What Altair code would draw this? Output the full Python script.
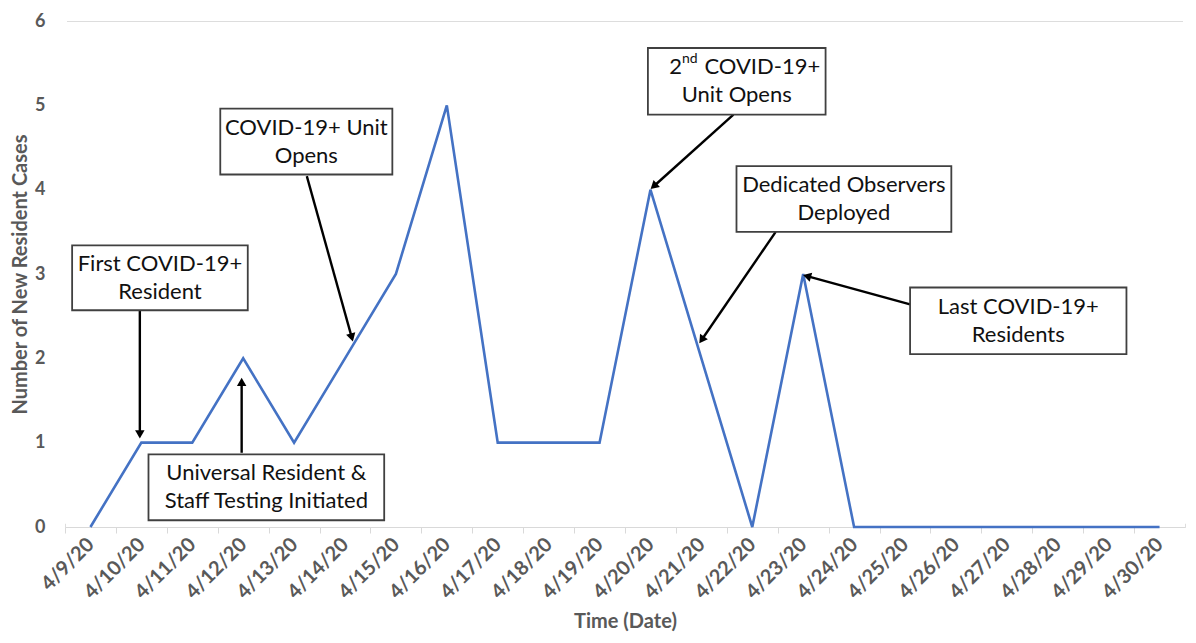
import math
import json
import altair as alt
import pandas as pd

# ---------------- data ----------------
dates = ["4/9/20", "4/10/20", "4/11/20", "4/12/20", "4/13/20", "4/14/20", "4/15/20",
         "4/16/20", "4/17/20", "4/18/20", "4/19/20", "4/20/20", "4/21/20", "4/22/20",
         "4/23/20", "4/24/20", "4/25/20", "4/26/20", "4/27/20", "4/28/20", "4/29/20",
         "4/30/20"]
cases = [0, 1, 1, 2, 1, 2, 3, 5, 1, 1, 1, 4, 2, 0, 3, 0, 0, 0, 0, 0, 0, 0]

# annotation boxes (x in category-index units, y in case units)
box_labels = ["First COVID-19+\nResident",
              "Universal Resident &\nStaff Testing Initiated",
              "COVID-19+ Unit\nOpens",
              "\nUnit Opens",
              "Dedicated Observers\nDeployed",
              "Last COVID-19+\nResidents"]
box_x1 = [0.14, 1.64, 3.05, 11.45, 13.19, 16.60]
box_x2 = [3.59, 6.27, 6.43, 14.94, 17.41, 20.85]
box_y1 = [2.57, 0.08, 4.18, 4.89, 3.50, 2.05]
box_y2 = [3.34, 0.86, 4.96, 5.68, 4.28, 2.84]

# arrows: start -> tip
arr_x0 = [1.47, 3.47, 4.75, 13.13, 13.96, 16.60]
arr_y0 = [2.57, 0.88, 4.16, 4.89, 3.50, 2.64]
arr_x1 = [1.47, 3.47, 5.66, 11.49, 12.45, 14.48]
arr_y1 = [1.04, 1.78, 2.19, 4.00, 2.17, 2.99]

N = len(dates)
W, H = 1120, 506
YMAX = 6
FONT = "Lato"
GRAY = "#595959"
STEP = W / N

# each date sits at the centre of its category slot
line_df = pd.DataFrame({"pos": [i + 0.5 for i in range(N)], "cases": cases})

box_df = pd.DataFrame({
    "x1": box_x1, "x2": box_x2, "y1": box_y1, "y2": box_y2,
    "label": box_labels,
})
box_df["xc"] = (box_df.x1 + box_df.x2) / 2
box_df["yc"] = (box_df.y1 + box_df.y2) / 2

# arrow geometry (shaft shortened so the head sits at the tip)
px_u = STEP
px_v = H / YMAX
rows = []
for x0, y0, x1, y1 in zip(arr_x0, arr_y0, arr_x1, arr_y1):
    dxs = (x1 - x0) * px_u
    dys = -(y1 - y0) * px_v
    L = math.hypot(dxs, dys)
    ux, uy = dxs / L, dys / L
    ang = math.degrees(math.atan2(dxs, -dys)) % 360
    rows.append({
        "x0": x0, "y0": y0,
        "xe": x1 - ux * 7 / px_u, "ye": y1 + uy * 7 / px_v,
        "xh": x1 - ux * 5 / px_u, "yh": y1 + uy * 5 / px_v,
        "angle": ang,
    })
arr_df = pd.DataFrame(rows)

# superscript label pieces for "2nd COVID-19+"
sup_x = [12.12, 12.12, 12.56]
sup_t = ["2", "nd", "COVID-19+"]
sup_align = ["right", "left", "left"]
sup_size = [22, 14, 22]
sup_dy = [-14, -22, -14]

# ---------------- chart ----------------
x_scale = alt.Scale(domain=[0, N], nice=False, zero=False)
y_scale = alt.Scale(domain=[0, YMAX], nice=False)

x_axis = alt.Axis(
    title="Time (Date)", grid=False,
    values=[i + 0.5 for i in range(N)],
    labelExpr=json.dumps(dates) + "[floor(datum.value)]",
    tickOffset=-STEP / 2, labelOffset=STEP / 2,
    domainColor="#D9D9D9", tickColor="#D9D9D9", tickSize=6,
    labelAngle=315, labelAlign="right", labelBaseline="middle",
    labelPadding=8, labelFlush=False, labelOverlap=False,
    labelFont=FONT, labelFontSize=20, labelFontWeight="bold", labelColor=GRAY,
    titleFont=FONT, titleFontSize=20, titleFontWeight="bold",
    titleColor=GRAY, titlePadding=9,
)
y_axis = alt.Axis(
    title="Number of New Resident Cases", values=[0, 1, 2, 3, 4, 5, 6],
    format="d",
    grid=False, domain=False, domainColor="white", domainOpacity=0, domainWidth=0,
    ticks=False,
    labelFont=FONT, labelFontSize=18, labelFontWeight="bold", labelColor=GRAY,
    labelPadding=20,
    titleFont=FONT, titleFontSize=20, titleFontWeight="bold", titleColor=GRAY,
    titlePadding=4,
)

# white edge mask over the plot-area side edges (hides stray frame lines)
edge_mask = alt.Chart(pd.DataFrame({"edge": [0, N]})).mark_rule(
    color="white", strokeWidth=4
).encode(
    x=alt.X("edge:Q", scale=x_scale, axis=x_axis),
    y=alt.datum(0.04, scale=y_scale, axis=y_axis),
    y2=alt.datum(YMAX + 0.2),
)

line = alt.Chart(line_df).mark_line(color="#4472C4", strokeWidth=2.6).encode(
    x=alt.X("pos:Q", scale=x_scale, axis=x_axis),
    y=alt.Y("cases:Q", scale=y_scale, axis=y_axis),
)

shafts = alt.Chart(arr_df).mark_rule(color="black", strokeWidth=2.4).encode(
    x=alt.X("x0:Q"), x2="xe:Q",
    y=alt.Y("y0:Q"), y2="ye:Q",
)

heads = alt.Chart(arr_df).mark_point(
    shape="triangle-up", filled=True, color="black", size=90, opacity=1
).encode(
    x=alt.X("xh:Q"),
    y=alt.Y("yh:Q"),
    angle=alt.Angle("angle:Q", scale=None),
)

boxes = alt.Chart(box_df).mark_rect(
    fill="white", stroke="#404040", strokeWidth=1.8
).encode(
    x=alt.X("x1:Q"), x2="x2:Q",
    y=alt.Y("y1:Q"), y2="y2:Q",
)

texts = alt.Chart(box_df).mark_text(
    font=FONT, fontSize=22, color="#111111", lineBreak="\n", lineHeight=28,
    align="center", baseline="middle", dy=-14,
).encode(
    x=alt.X("xc:Q"),
    y=alt.Y("yc:Q"),
    text="label:N",
)

sup_layers = []
yc4 = float(box_df["yc"][3])
for xx, tt, al, sz, dd in zip(sup_x, sup_t, sup_align, sup_size, sup_dy):
    sup_layers.append(
        alt.Chart(pd.DataFrame({"x": [xx], "y": [yc4], "t": [tt]})).mark_text(
            font=FONT, fontSize=sz, color="#111111",
            align=al, baseline="middle", dy=dd,
        ).encode(
            x=alt.X("x:Q"),
            y=alt.Y("y:Q"),
            text="t:N",
        )
    )

chart = alt.layer(edge_mask, line, shafts, heads, boxes, texts, *sup_layers).properties(
    width=W, height=H,
    autosize=alt.AutoSizeParams(type="none"),
    padding={"left": 57, "top": 13, "right": 3, "bottom": 110},
).configure_view(stroke=None, strokeWidth=0).configure_axisY(
    domain=False, ticks=False, grid=False
).configure_axisLeft(domain=False, grid=False).configure_axisX(
    grid=False
).configure(background="white")

chart.save("out.html", embed_options={"renderer": "svg", "actions": False})
